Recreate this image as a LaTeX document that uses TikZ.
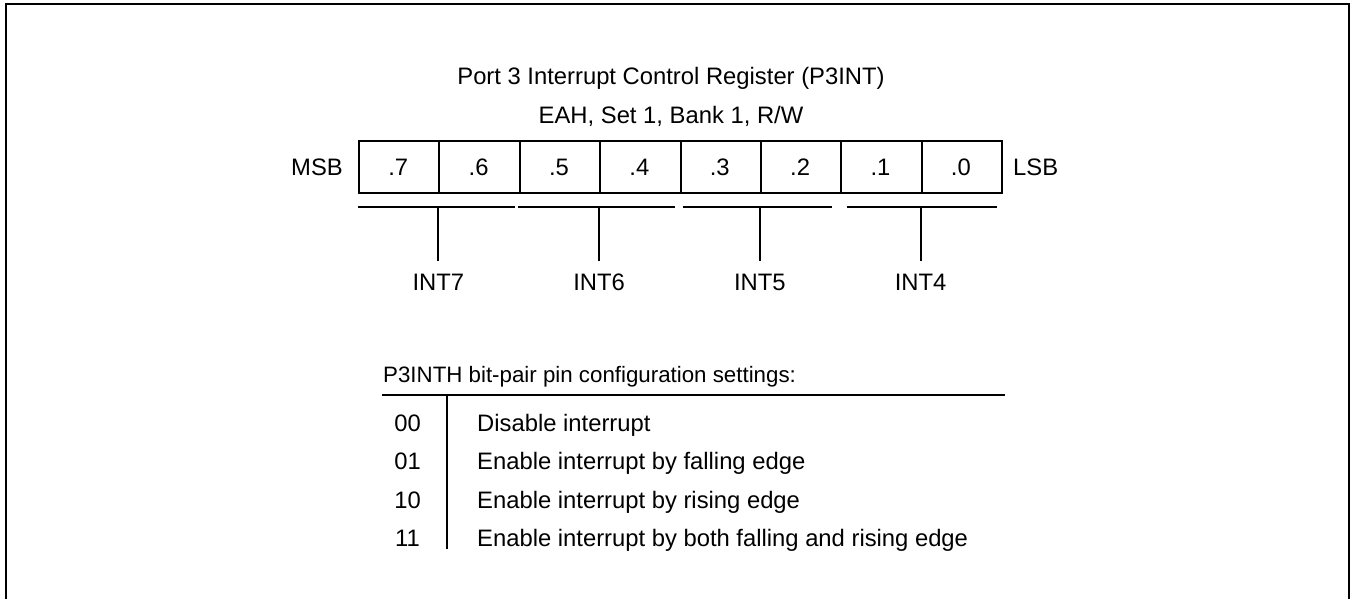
\documentclass[tikz,border=0pt]{standalone}
\usepackage{fontspec}
\setmainfont{Liberation Sans}
\begin{document}
\begin{tikzpicture}[x=1pt,y=-1pt,
  every node/.style={font=\fontsize{23.8}{28}\selectfont, inner sep=0pt},
  txt/.style={anchor=base},
  cell/.style={draw, line width=2pt, minimum width=80.4pt, minimum height=52pt, anchor=north west},
  ln/.style={line width=2pt}]
\useasboundingbox (0,0) rectangle (1352,598);
% outer frame (open at the bottom)
\draw[line width=2.2pt] (6,600) -- (6,4) -- (1349,4) -- (1349,600);
% titles
\node[txt] (title) at (671,84) {Port 3 Interrupt Control Register (P3INT)};
\node[txt] (addr) at (671,123) {EAH, Set 1, Bank 1, R/W};
% register cells
\foreach \i/\b in {0/7,1/6,2/5,3/4,4/3,5/2,6/1,7/0}{
  \node[cell] (c\b) at ({358+80.375*\i},140) {};
  \node[txt] (t\b) at ({398.2+80.375*\i},175.5) {.\b};
}
\node[txt, anchor=base east] (msb) at (343,175.5) {MSB};
\node[txt, anchor=base west] (lsb) at (1013,175.5) {LSB};
% brackets
\coordinate (b7a) at (358,207); \coordinate (b7b) at (515,207);
\coordinate (b6a) at (518,207); \coordinate (b6b) at (675,207);
\coordinate (b5a) at (683,207); \coordinate (b5b) at (832,207);
\coordinate (b4a) at (847,207); \coordinate (b4b) at (997,207);
\draw[ln] (b7a) -- (b7b);
\draw[ln] (b6a) -- (b6b);
\draw[ln] (b5a) -- (b5b);
\draw[ln] (b4a) -- (b4b);
\foreach \n/\x in {7/438.4,6/599.1,5/759.9,4/920.6}{
  \coordinate (s\n) at (\x,207);
  \coordinate (e\n) at (\x,261);
  \draw[ln] (s\n) -- (e\n);
  \node[txt] (int\n) at (\x,290) {INT\n};
}
% table
\node[txt, anchor=base west, font=\fontsize{22.3}{26}\selectfont] (thead) at (383,382) {P3INTH bit-pair pin configuration settings:};
\coordinate (rl) at (382,395); \coordinate (rr) at (1005,395);
\draw[ln] (rl) -- (rr);
\coordinate (vt) at (447,395); \coordinate (vb) at (447,549);
\draw[ln] (vt) -- (vb);
\node[txt] (k00) at (407.5,431) {00};
\node[txt] (k01) at (407.5,469.5) {01};
\node[txt] (k10) at (407.5,508) {10};
\node[txt] (k11) at (407.5,546) {11};
\node[txt, anchor=base west] (d00) at (477,431) {Disable interrupt};
\node[txt, anchor=base west] (d01) at (477,469.5) {Enable interrupt by falling edge};
\node[txt, anchor=base west] (d10) at (477,508) {Enable interrupt by rising edge};
\node[txt, anchor=base west] (d11) at (477,546) {Enable interrupt by both falling and rising edge};
\end{tikzpicture}
\end{document}
